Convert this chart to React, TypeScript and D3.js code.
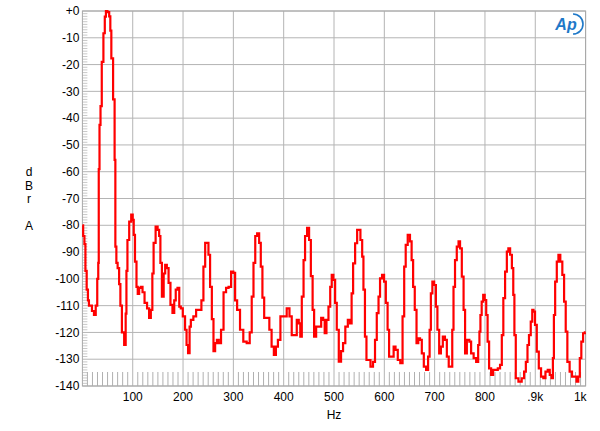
import * as d3 from "d3";

// FFT spectrum, dBr A vs Hz
const freqHz = [
  0, 3, 5, 7, 10, 12, 14, 17, 21, 25,
  28, 31, 32, 33, 35, 37, 40, 43.5, 45.5, 48,
  51.5, 55, 56, 59, 63, 65, 66, 69, 71, 75,
  76, 81, 85, 87, 88, 91, 95, 99, 101, 103,
  106, 109, 111, 114.5, 118, 121, 126, 131, 134, 138,
  140, 143, 148, 151, 154, 156, 160, 163, 166, 169.5,
  173, 177, 181, 184, 187, 191, 194, 197, 202, 206,
  208, 212, 214, 217, 224, 228, 234, 239, 242, 246,
  249, 252, 255.5, 259, 262, 265.5, 269, 273, 278, 283,
  288, 293, 298, 302, 305, 310, 316.5, 323, 330, 335,
  338, 342, 345, 349.5, 353, 356, 359.5, 363, 369, 374,
  378, 383, 386, 391, 396, 403, 409, 414, 418, 424,
  428, 432, 434, 438, 441, 444, 449, 452, 456, 459,
  462, 467, 472, 477, 480, 483, 487, 491, 494, 497,
  500.5, 504, 507, 512, 516, 520, 525, 530, 534, 536,
  540, 544, 548, 550, 555, 557, 560, 563, 566, 570,
  575, 580, 583, 587, 590, 593, 598, 601, 605, 608,
  611, 617, 620, 624.5, 629, 634.5, 638, 641, 644, 649,
  653, 655.5, 659, 662, 666, 669, 673, 676, 681, 685,
  689, 691, 694, 697, 701, 704, 707, 711, 714, 718.5,
  722.5, 726, 730, 734, 736, 739, 742, 746, 749, 752,
  756, 759, 762, 766, 768, 770, 775, 780, 785, 788,
  790, 792, 795, 798, 801, 804, 806.5, 810, 814.5, 818,
  823, 828, 832, 835, 838, 842, 845, 848, 852, 855,
  857.5, 859.5, 863, 870, 876, 879.5, 883, 886, 889, 893,
  895, 898, 901, 905, 909, 914, 918, 922.5, 927, 930.5,
  934, 936, 938, 941, 944.5, 947.5, 952, 955.5, 959, 962,
  965.5, 971, 975, 980, 984, 987, 990, 993, 997, 1000,
];

const levelDbr = [
  -80, -84, -87, -97, -104, -108, -110, -110, -112, -113.5,
  -110, -100, -94, -59, -42.5, -35.5, -19, -8.3, -2.1, 0,
  -0.4, -2, -7.3, -17.7, -33, -55.6, -88, -94, -96, -102,
  -110, -120, -124.7, -113, -97, -85.5, -78.6, -76, -78, -83.6,
  -93.6, -103, -105.6, -103.4, -103, -105, -109, -111, -114.6, -111.6,
  -98, -86.6, -80.5, -81.7, -84, -94, -106.6, -98, -94.8, -96,
  -101.5, -109.7, -112.7, -108, -104, -103.4, -110.4, -111, -114, -119,
  -124.7, -127.7, -117.8, -115.3, -114, -111.6, -111.6, -108, -95.4, -86.6,
  -86.6, -91, -103, -115, -127, -124, -122.8, -124, -119, -105,
  -103.4, -103, -97.3, -97.8, -108, -111.6, -119, -123.4, -124, -120,
  -106.6, -94, -84, -83, -86.6, -95.4, -107, -114.6, -114.6, -119,
  -125.3, -128.4, -125.3, -122.8, -114, -114, -111, -114, -121, -121,
  -115.3, -116.6, -121.6, -106.6, -93, -84, -81, -85.5, -99, -111.6,
  -121.6, -117.8, -117.8, -114.6, -115.3, -120.3, -115.3, -110.4, -103, -98.5,
  -100.4, -109, -119, -130.9, -127, -124, -117.8, -115.3, -116.6, -105.4,
  -94.2, -86.7, -81.7, -81.7, -85.5, -91.7, -104, -121.6, -130.3, -130.3,
  -132.8, -131, -122.8, -112.8, -106.6, -99.8, -98.5, -101, -109, -119,
  -129, -129, -125.3, -126.5, -130.3, -131.5, -114, -95.4, -87.3, -83.6,
  -86, -93, -103, -111.6, -124, -122.2, -122.8, -127.8, -132.8, -134,
  -129, -119, -105.4, -101, -102.3, -110.4, -119, -127.8, -125.3, -121.6,
  -122.8, -129, -132.8, -132.8, -119, -103, -93, -88, -86, -88.6,
  -99.2, -111.6, -127.8, -122.8, -122.8, -123.4, -127.8, -129.6, -131, -124.7,
  -119.7, -113.5, -108.5, -106, -107.9, -113.5, -123.4, -133.4, -135.9, -134,
  -134, -133.4, -132.1, -121, -107.2, -97.3, -89.8, -88.6, -91, -96,
  -106, -121, -137.1, -138.4, -137.1, -134.6, -131, -124.7, -121, -116,
  -111.6, -112.2, -117.2, -127.2, -133.4, -136.5, -137.1, -134.6, -134, -135.9,
  -137.1, -129.6, -113.5, -101, -93.6, -91, -93.6, -98.5, -108.5, -119.7,
  -131, -134.6, -136.5, -136.5, -138.4, -136.5, -129.6, -123.4, -120.3, -120,
];

const xTicks = [100, 200, 300, 400, 500, 600, 700, 800, 900, 1000];
const xTickLabels = ["100", "200", "300", "400", "500", "600", "700", "800", ".9k", "1k"];
const yTicks = [0, -10, -20, -30, -40, -50, -60, -70, -80, -90, -100, -110, -120, -130, -140];
const yTickLabels = ["+0", "-10", "-20", "-30", "-40", "-50", "-60", "-70", "-80", "-90", "-100", "-110", "-120", "-130", "-140"];
const yTitle = ["d", "B", "r", "", "A"];

export default function App() {
  const width = 600;
  const height = 431;
  const left = 82.4;
  const right = 585.6;
  const top = 11;
  const bottom = 386;
  const font = "'Liberation Sans', Arial, sans-serif";

  const x = d3.scaleLinear().domain([0, 1000]).range([left, right]);
  const y = d3.scaleLinear().domain([-140, 0]).range([bottom, top]);

  // the analyser draws a stair-stepped trace
  const line = d3
    .line<number>()
    .x((_, i) => x(freqHz[i]))
    .y((d) => y(d))
    .curve(d3.curveStep);

  // minor ticks: 1 dB on the left, 10 Hz along the bottom
  const minorY = d3.range(-139, 0, 1).filter((v) => v % 10 !== 0);
  const minorX = d3.range(10, 1000, 10).filter((v) => v % 100 !== 0);

  return (
    <svg
      width={width}
      height={height}
      style={{ position: "absolute", left: 0, top: 0, background: "#fff" }}
    >
      <rect x={0} y={0} width={width} height={height} fill="#fff" />

      {/* minor ticks */}
      {minorY.map((v) => (
        <line key={"my" + v} x1={left} x2={left + 5} y1={y(v)} y2={y(v)} stroke="#c8c8c8" strokeWidth={1} />
      ))}
      {minorX.map((v) => (
        <line key={"mx" + v} x1={x(v)} x2={x(v)} y1={bottom} y2={bottom - 14} stroke="#b0b0b0" strokeWidth={1} />
      ))}

      {/* grid */}
      {yTicks.map((v) => (
        <line key={"gy" + v} x1={left} x2={right} y1={y(v)} y2={y(v)} stroke="#b4b4b4" strokeWidth={1} />
      ))}
      {xTicks.map((v) => (
        <line key={"gx" + v} x1={x(v)} x2={x(v)} y1={top} y2={bottom} stroke="#b4b4b4" strokeWidth={1} />
      ))}
      <rect x={left} y={top} width={right - left} height={bottom - top} fill="none" stroke="#a8a8a8" strokeWidth={1} />

      {/* trace */}
      <path d={line(levelDbr) ?? ""} fill="none" stroke="#ff0000" strokeWidth={2.2} strokeLinejoin="miter" />

      {/* y tick labels */}
      {yTicks.map((v, i) => (
        <text key={"ty" + v} x={left - 3} y={y(v)} dy="0.35em" textAnchor="end" fontFamily={font} fontSize={12} fill="#000">
          {yTickLabels[i]}
        </text>
      ))}

      {/* x tick labels */}
      {xTicks.map((v, i) => (
        <text
          key={"tx" + v}
          x={v === 1000 ? x(v) + 1 : x(v)}
          y={bottom + 11}
          dy="0.35em"
          textAnchor={v === 1000 ? "end" : "middle"}
          fontFamily={font}
          fontSize={12}
          fill="#000"
        >
          {xTickLabels[i]}
        </text>
      ))}

      {/* axis titles */}
      <text x={(left + right) / 2} y={415} dy="0.35em" textAnchor="middle" fontFamily={font} fontSize={12} fill="#000">
        Hz
      </text>
      {yTitle.map((c, i) => (
        <text key={"yt" + i} x={29} y={172 + i * 13.5} dy="0.35em" textAnchor="middle" fontFamily={font} fontSize={12} fill="#000">
          {c}
        </text>
      ))}

      {/* AP logo */}
      <g transform="translate(566,24)">
        <text x={0} y={0} dy="0.35em" textAnchor="middle" fontFamily={font} fontStyle="italic" fontWeight="bold" fontSize={16} fill="#1e78c8">
          Ap
        </text>
        <path d="M 4 -10 A 10 10 0 0 1 4 10" fill="none" stroke="#1e78c8" strokeWidth={1.6} transform="translate(3,0)" />
      </g>
    </svg>
  );
}
